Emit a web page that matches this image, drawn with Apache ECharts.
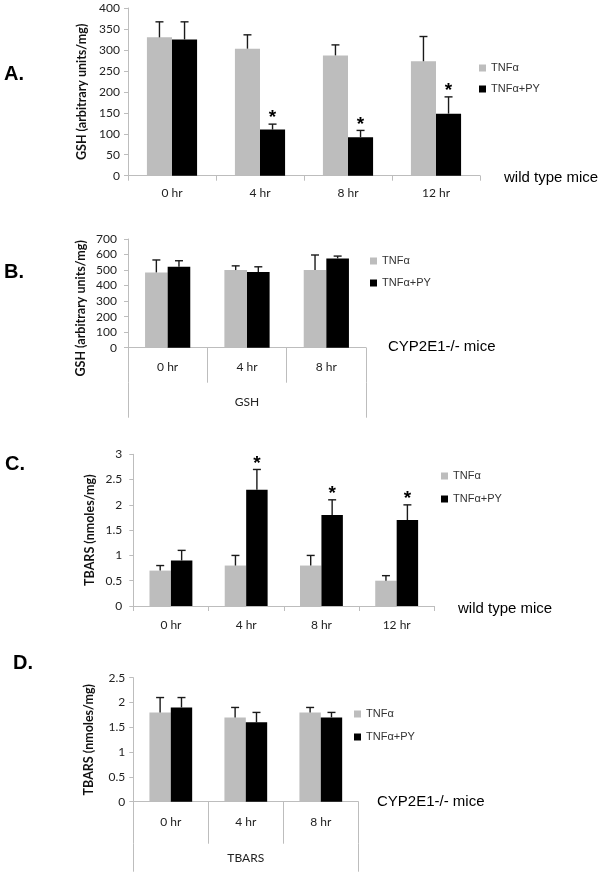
<!DOCTYPE html>
<html><head><meta charset="utf-8">
<script src="https://cdn.jsdelivr.net/npm/echarts@6/dist/echarts.min.js"></script>
<style>html,body{margin:0;padding:0;background:#fff}#c{width:603px;height:876px}</style>
</head><body><div id="c"></div>
<script>
// ---- data ----
const catsWT = ['0 hr', '4 hr', '8 hr', '12 hr'];
const catsKO = ['0 hr', '4 hr', '8 hr'];
const seriesNames = ['TNFα', 'TNFα+PY'];

// A: GSH, wild type
const gshWT_TNF = [330, 303, 287, 273];
const gshWT_TNF_err = [37, 33, 25, 59];
const gshWT_PY = [325, 110, 92, 148];
const gshWT_PY_err = [42, 13, 16, 40];
const gshWT_sig = [0, 1, 1, 1];

// B: GSH, CYP2E1-/-
const gshKO_TNF = [485, 500, 500];
const gshKO_TNF_err = [80, 27, 97];
const gshKO_PY = [521, 487, 575];
const gshKO_PY_err = [39, 34, 15];

// C: TBARS, wild type
const tbarsWT_TNF = [0.7, 0.8, 0.8, 0.5];
const tbarsWT_TNF_err = [0.1, 0.2, 0.2, 0.1];
const tbarsWT_PY = [0.9, 2.3, 1.8, 1.7];
const tbarsWT_PY_err = [0.2, 0.4, 0.3, 0.3];
const tbarsWT_sig = [0, 1, 1, 1];

// D: TBARS, CYP2E1-/-
const tbarsKO_TNF = [1.8, 1.7, 1.8];
const tbarsKO_TNF_err = [0.3, 0.2, 0.1];
const tbarsKO_PY = [1.9, 1.6, 1.7];
const tbarsKO_PY_err = [0.2, 0.2, 0.1];

// ---- styling ----
const AX = '#bdbdbd';
const GRAY = '#bdbdbd';
const BLACK = '#000000';
const BARW = 0.285;
const LBL_FONT = 'Lato';

function xCat(gi, data, opt) {
  return Object.assign({
    type: 'category', gridIndex: gi, data: data,
    axisLine: {show: true, lineStyle: {color: AX}},
    axisTick: {show: true, length: 5, lineStyle: {color: AX}},
    axisLabel: {fontFamily: LBL_FONT, fontSize: 12, color: '#222', margin: 11},
    splitLine: {show: false}
  }, opt || {});
}
function yVal(gi, max, interval, name, gap, margin, pad) {
  return {
    type: 'value', gridIndex: gi, min: 0, max: max, interval: interval,
    name: name, nameLocation: 'middle', nameGap: gap,
    nameTextStyle: {fontFamily: LBL_FONT, fontWeight: 'bold', fontSize: 12.5, color: '#111', padding: pad || 0},
    axisLine: {show: true, lineStyle: {color: AX}},
    axisTick: {show: true, length: 4, lineStyle: {color: AX}},
    axisLabel: {fontFamily: LBL_FONT, fontSize: 12, color: '#222', margin: margin},
    splitLine: {show: false}
  };
}
function bar(name, xi, yi, vals, color) {
  return {type: 'bar', name: name, xAxisIndex: xi, yAxisIndex: yi, data: vals,
    barWidth: (BARW * 100) + '%', barGap: '0%', itemStyle: {color: color}, silent: true, z: 2};
}
function errs(id, xi, yi, vals, e, sig, side) {
  return {
    type: 'custom', name: id, xAxisIndex: xi, yAxisIndex: yi, z: 5, silent: true,
    data: vals.map((v, i) => [i, v, e[i], sig ? sig[i] : 0]),
    encode: {x: 0, y: 1},
    renderItem: function (params, api) {
      const i = api.value(0), v = api.value(1), er = api.value(2), s = api.value(3);
      const p = api.coord([i, v]);
      const band = api.size([1, 0])[0];
      const x = p[0] + side * band * BARW / 2;
      const t = api.coord([i, v + er])[1];
      const st = {stroke: '#1a1a1a', lineWidth: 1.4};
      const ch = [
        {type: 'line', shape: {x1: x, y1: p[1], x2: x, y2: t}, style: st},
        {type: 'line', shape: {x1: x - 4, y1: t, x2: x + 4, y2: t}, style: st}
      ];
      if (s) ch.push({type: 'text', style: {text: '*', x: x, y: t - 6,
        align: 'center', verticalAlign: 'middle', textAlign: 'center', textVerticalAlign: 'middle',
        font: 'bold 19px "Liberation Sans", Arial', fill: '#000'}});
      return {type: 'group', children: ch};
    }
  };
}
function legend(left, top, gap) {
  return {data: seriesNames, orient: 'vertical', left: left, top: top, itemGap: gap, padding: 0,
    icon: 'rect', itemWidth: 7, itemHeight: 7, selectedMode: false,
    textStyle: {fontFamily: '"Liberation Sans", Arial', fontSize: 11, color: '#333', lineHeight: 12}};
}
function txt(x, y, s, font) {
  return {type: 'text', x: x, y: y, style: {text: s, font: font, fill: '#000',
    verticalAlign: 'middle', textVerticalAlign: 'middle'}};
}

const option = {
  backgroundColor: '#fff',
  animation: false,
  grid: [
    {left: 128, top: 8, width: 352, height: 167.7},
    {left: 128, top: 239, width: 238, height: 108.7},
    {left: 133.3, top: 454.3, width: 301, height: 151.7},
    {left: 133.3, top: 677.7, width: 225, height: 124}
  ],
  xAxis: [
    xCat(0, catsWT, {axisLabel: {fontFamily: LBL_FONT, fontSize: 12, color: '#222', margin: 11}}),
    xCat(1, catsKO, {axisTick: {show: true, length: 35, lineStyle: {color: AX}},
      axisLabel: {fontFamily: LBL_FONT, fontSize: 12, color: '#222', margin: 13}}),
    xCat(1, ['GSH'], {position: 'bottom', offset: 35, axisLine: {show: false},
      axisTick: {show: true, length: 35, lineStyle: {color: AX}},
      axisLabel: {fontFamily: LBL_FONT, fontSize: 12, color: '#222', margin: 13}}),
    xCat(2, catsWT, {axisLabel: {fontFamily: LBL_FONT, fontSize: 12, color: '#222', margin: 13}}),
    xCat(3, catsKO, {axisTick: {show: true, length: 42, lineStyle: {color: AX}},
      axisLabel: {fontFamily: LBL_FONT, fontSize: 12, color: '#222', margin: 14}}),
    xCat(3, ['TBARS'], {position: 'bottom', offset: 42, axisLine: {show: false},
      axisTick: {show: true, length: 28, lineStyle: {color: AX}},
      axisLabel: {fontFamily: LBL_FONT, fontSize: 12, color: '#222', margin: 8}})
  ],
  yAxis: [
    yVal(0, 400, 50, 'GSH (arbitrary units/mg)', 38, 8),
    yVal(1, 700, 100, 'GSH (arbitrary units/mg)', 41, 11, [0, 30, 0, 0]),
    yVal(2, 3, 0.5, 'TBARS (nmoles/mg)', 37, 11),
    yVal(3, 2.5, 0.5, 'TBARS (nmoles/mg)', 38, 8)
  ],
  legend: [
    legend(479, 62, 9),
    legend(370, 255, 10),
    legend(441, 470, 11),
    legend(354, 708, 11)
  ],
  series: [
    bar(seriesNames[0], 0, 0, gshWT_TNF, GRAY),
    bar(seriesNames[1], 0, 0, gshWT_PY, BLACK),
    errs('eA1', 0, 0, gshWT_TNF, gshWT_TNF_err, null, -1),
    errs('eA2', 0, 0, gshWT_PY, gshWT_PY_err, gshWT_sig, 1),

    bar(seriesNames[0], 1, 1, gshKO_TNF, GRAY),
    bar(seriesNames[1], 1, 1, gshKO_PY, BLACK),
    errs('eB1', 1, 1, gshKO_TNF, gshKO_TNF_err, null, -1),
    errs('eB2', 1, 1, gshKO_PY, gshKO_PY_err, null, 1),

    bar(seriesNames[0], 3, 2, tbarsWT_TNF, GRAY),
    bar(seriesNames[1], 3, 2, tbarsWT_PY, BLACK),
    errs('eC1', 3, 2, tbarsWT_TNF, tbarsWT_TNF_err, null, -1),
    errs('eC2', 3, 2, tbarsWT_PY, tbarsWT_PY_err, tbarsWT_sig, 1),

    bar(seriesNames[0], 4, 3, tbarsKO_TNF, GRAY),
    bar(seriesNames[1], 4, 3, tbarsKO_PY, BLACK),
    errs('eD1', 4, 3, tbarsKO_TNF, tbarsKO_TNF_err, null, -1),
    errs('eD2', 4, 3, tbarsKO_PY, tbarsKO_PY_err, null, 1)
  ],
  graphic: [
    txt(4, 74, 'A.', 'bold 20px "Liberation Sans", Arial'),
    txt(4, 272, 'B.', 'bold 20px "Liberation Sans", Arial'),
    txt(5, 464, 'C.', 'bold 20px "Liberation Sans", Arial'),
    txt(13, 663, 'D.', 'bold 20px "Liberation Sans", Arial'),
    txt(504, 178, 'wild type mice', '15px "Liberation Sans", Arial'),
    txt(388, 347, 'CYP2E1-/- mice', '15px "Liberation Sans", Arial'),
    txt(458, 609, 'wild type mice', '15px "Liberation Sans", Arial'),
    txt(377, 802, 'CYP2E1-/- mice', '15px "Liberation Sans", Arial')
  ]
};
const chart = echarts.init(document.getElementById('c'), null, {renderer: 'canvas'});
chart.setOption(option);
</script></body></html>
